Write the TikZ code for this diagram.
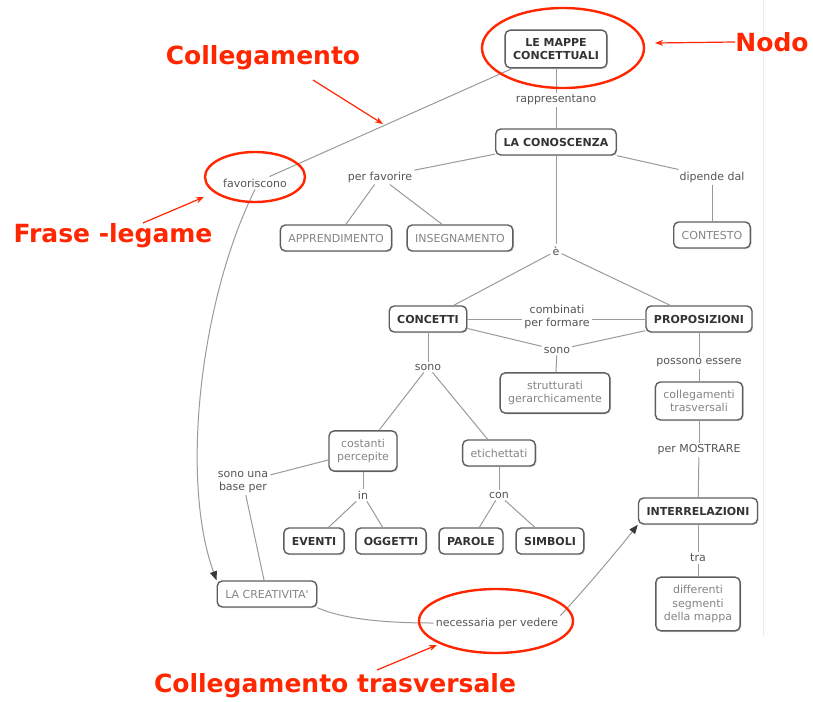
\documentclass[tikz,border=0pt]{standalone}
\usepackage{fontspec}
\setmainfont{DejaVu Sans}
\usetikzlibrary{shapes.geometric,arrows.meta,shadows}
\definecolor{annot}{HTML}{FF2600}
\definecolor{boxline}{HTML}{5E5E5E}
\definecolor{conline}{HTML}{9A9A9A}
\definecolor{boldtxt}{HTML}{333333}
\definecolor{lighttxt}{HTML}{858585}
\definecolor{labtxt}{HTML}{555555}
\definecolor{tipcol}{HTML}{3A3A3A}
\definecolor{edge}{HTML}{EBEBEB}
\begin{document}
\begin{tikzpicture}[x=1pt,y=-1pt,
 base/.style={draw=boxline, line width=1.4pt, rounded corners=5pt, fill=white, align=center,
   inner xsep=8pt, inner ysep=8pt, minimum height=26pt,
   drop shadow={shadow xshift=1.2pt, shadow yshift=-1.2pt, opacity=0.25}},
 mainbox/.style={base, font=\fontsize{11}{13.5}\selectfont\bfseries, text=boldtxt},
 litebox/.style={base, font=\fontsize{11}{13.5}\selectfont, text=lighttxt},
 lab/.style={font=\fontsize{11}{13.5}\selectfont, text=labtxt, align=center, inner sep=2pt},
 conn/.style={draw=conline, line width=1pt},
 tipline/.style={draw=conline, line width=1pt, -{Triangle[length=9pt,width=7pt,color=tipcol]}},
 annotxt/.style={font=\fontsize{25}{29}\selectfont\bfseries, text=annot, inner sep=0pt},
 ring/.style={draw=annot, line width=2.4pt, ellipse, inner sep=0pt},
 redarrow/.style={draw=annot, line width=1.2pt, -{Stealth[length=8pt,width=6pt]}}
]
\useasboundingbox (0,0) rectangle (813,701);
\fill[white] (0,0) rectangle (813,701);
\coordinate (edgetop) at (763,0);
\coordinate (edgebot) at (763,636);
\draw[edge, line width=1pt] (edgetop) -- (edgebot);

% concept boxes
\node[mainbox] (mappe) at (556,49) {LE MAPPE\\CONCETTUALI};
\node[mainbox] (conosc) at (556,142) {LA CONOSCENZA};
\node[litebox] (appr) at (336,238) {APPRENDIMENTO};
\node[litebox] (inseg) at (460,238) {INSEGNAMENTO};
\node[litebox] (contesto) at (712,235) {CONTESTO};
\node[mainbox] (concetti) at (428,319) {CONCETTI};
\node[mainbox] (propos) at (699,319) {PROPOSIZIONI};
\node[litebox] (strutt) at (555,393) {strutturati\\gerarchicamente};
\node[litebox] (colltr) at (699,401) {collegamenti\\trasversali};
\node[litebox] (costanti) at (363,451) {costanti\\percepite};
\node[litebox] (etich) at (499,453) {etichettati};
\node[mainbox] (eventi) at (314,541) {EVENTI};
\node[mainbox] (oggetti) at (391,541) {OGGETTI};
\node[mainbox] (parole) at (471,541) {PAROLE};
\node[mainbox] (simboli) at (550,541) {SIMBOLI};
\node[mainbox] (interrel) at (698,511) {INTERRELAZIONI};
\node[litebox] (differ) at (698,604) {differenti\\segmenti\\della mappa};
\node[litebox] (creativ) at (267,594) {LA CREATIVITA\textquotesingle};

% linking phrases
\node[lab] (rapp) at (556,100) {rappresentano};
\node[lab] (favor) at (255,183) {favoriscono};
\node[lab] (perfav) at (380,177) {per favorire};
\node[lab] (dipende) at (712,177) {dipende dal};
\node[lab] (e) at (556,251) {è};
\node[lab] (combin) at (557,317) {combinati\\per formare};
\node[lab] (sonomid) at (557,350) {sono};
\node[lab] (sonoleft) at (428,367) {sono};
\node[lab] (possono) at (699,363) {possono essere};
\node[lab] (mostrare) at (699,450) {per MOSTRARE};
\node[lab] (in) at (363,495) {in};
\node[lab] (con) at (499,495) {con};
\node[lab] (base) at (243,482) {sono una\\base per};
\node[lab] (tra) at (698,558) {tra};
\node[lab] (necess) at (497,623) {necessaria per vedere};

% connectors
\draw[conn] (mappe) -- (rapp);
\draw[conn] (rapp) -- (conosc);
\draw[conn] (mappe) -- (favor);
\draw[conn] (conosc) -- (perfav);
\draw[conn] (perfav) -- (appr);
\draw[conn] (perfav) -- (inseg);
\draw[conn] (conosc) -- (dipende);
\draw[conn] (dipende) -- (contesto);
\draw[conn] (conosc) -- (e);
\draw[conn] (e) -- (concetti);
\draw[conn] (e) -- (propos);
\draw[conn] (concetti.east) -- (combin.west |- concetti.east);
\draw[conn] (combin.east |- propos.west) -- (propos.west);
\draw[conn] (concetti) -- (sonomid);
\draw[conn] (propos) -- (sonomid);
\draw[conn] (sonomid) -- (strutt);
\draw[conn] (concetti) -- (sonoleft);
\draw[conn] (sonoleft) -- (costanti);
\draw[conn] (sonoleft) -- (etich);
\draw[conn] (costanti) -- (in);
\draw[conn] (in) -- (eventi);
\draw[conn] (in) -- (oggetti);
\draw[conn] (etich) -- (con);
\draw[conn] (con) -- (parole);
\draw[conn] (con) -- (simboli);
\draw[conn] (costanti) -- (base);
\draw[conn] (base) -- (creativ);
\draw[conn] (propos) -- (possono);
\draw[conn] (possono) -- (colltr);
\draw[conn] (colltr) -- (mostrare);
\draw[conn] (mostrare) -- (interrel);
\draw[conn] (interrel) -- (tra);
\draw[conn] (tra) -- (differ);
\draw[tipline] (favor.south) .. controls (200,300) and (180,480) .. (creativ.north west);
\draw[conn] (creativ.south east) .. controls (345,620) and (390,623) .. (necess.west);
\draw[tipline] (necess.north east) .. controls (575,600) and (610,560) .. (interrel.south west);

% annotations
\node[ring, minimum width=162pt, minimum height=80pt] (ringnodo) at (563,48) {};
\node[ring, minimum width=100pt, minimum height=50pt] (ringfrase) at (255,177) {};
\node[ring, minimum width=154pt, minimum height=64pt] (ringtrasv) at (496,621) {};
\node[annotxt] (tnodo) at (772,42) {Nodo};
\node[annotxt] (tcoll) at (263,58) {Collegamento};
\node[annotxt] (tfrase) at (113,236) {Frase -legame};
\node[annotxt] (ttrasv) at (335,686) {Collegamento trasversale};
\coordinate (nodotip) at (655,43);
\coordinate (colltail) at (313,80);
\coordinate (colltip) at (383,124);
\coordinate (frasetail) at (143,223);
\coordinate (frasetip) at (204,197);
\coordinate (trasvtail) at (377,670);
\coordinate (trasvtip) at (437,645);
\draw[redarrow] (tnodo.west) -- (nodotip);
\draw[redarrow] (colltail) -- (colltip);
\draw[redarrow] (frasetail) -- (frasetip);
\draw[redarrow] (trasvtail) -- (trasvtip);
\end{tikzpicture}
\end{document}
